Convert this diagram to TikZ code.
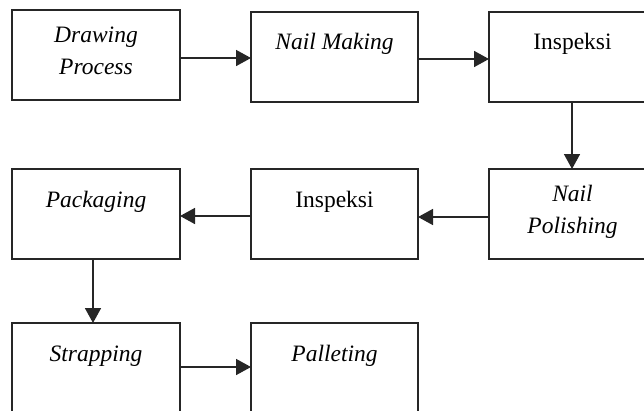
\documentclass[tikz,border=0pt]{standalone}
\usepackage{fontspec}
\setmainfont{Liberation Serif}
\usetikzlibrary{arrows.meta}
\begin{document}
\begin{tikzpicture}[x=1pt,y=-1pt,
  box/.style={draw=black!85, line width=1.5pt, minimum width=168pt, minimum height=90pt, inner sep=0pt, outer sep=0pt},
  txt/.style={anchor=base, inner sep=0pt, font=\fontsize{23.5}{28}\selectfont},
  arr/.style={draw=black!85, line width=1.6pt, -{Triangle[length=15pt,width=16pt]}}]
\useasboundingbox (0,0) rectangle (644,410);
\clip (0,0) rectangle (644,410);
% boxes
\node[box] (b1) at (96,55) {};
\node[box, minimum width=167pt] (b2) at (334.5,57) {};
\node[box, minimum width=167pt] (b3) at (572.5,57) {};
\node[box] (b4) at (96,214) {};
\node[box, minimum width=167pt] (b5) at (334.5,214) {};
\node[box, minimum width=167pt] (b6) at (572.5,214) {};
\node[box] (b7) at (96,368) {};
\node[box, minimum width=167pt] (b8) at (334.5,368) {};
% texts
\node[txt] (t1a) at (96,42) {\textit{Drawing}};
\node[txt] (t1b) at (96,74) {\textit{Process}};
\node[txt] (t2) at (334.5,49) {\textit{Nail Making}};
\node[txt] (t3) at (572.5,49) {Inspeksi};
\node[txt] (t4) at (96,207) {\textit{Packaging}};
\node[txt] (t5) at (334.5,207) {Inspeksi};
\node[txt] (t6a) at (572.5,201) {\textit{Nail}};
\node[txt] (t6b) at (572.5,233) {\textit{Polishing}};
\node[txt] (t7) at (96,361) {\textit{Strapping}};
\node[txt] (t8) at (334.5,361) {\textit{Palleting}};
% arrows
\draw[arr] ([yshift=-3pt]b1.east) -- ([yshift=-1pt]b2.west);
\draw[arr] ([yshift=-2pt]b2.east) -- ([yshift=-2pt]b3.west);
\draw[arr] ([xshift=-0.5pt]b3.south) -- ([xshift=-0.5pt]b6.north);
\draw[arr] ([yshift=-3pt]b6.west) -- ([yshift=-3pt]b5.east);
\draw[arr] ([yshift=-2pt]b5.west) -- ([yshift=-2pt]b4.east);
\draw[arr] ([xshift=-3pt]b4.south) -- ([xshift=-3pt]b7.north);
\draw[arr] ([yshift=1pt]b7.east) -- ([yshift=1pt]b8.west);
\end{tikzpicture}
\end{document}
